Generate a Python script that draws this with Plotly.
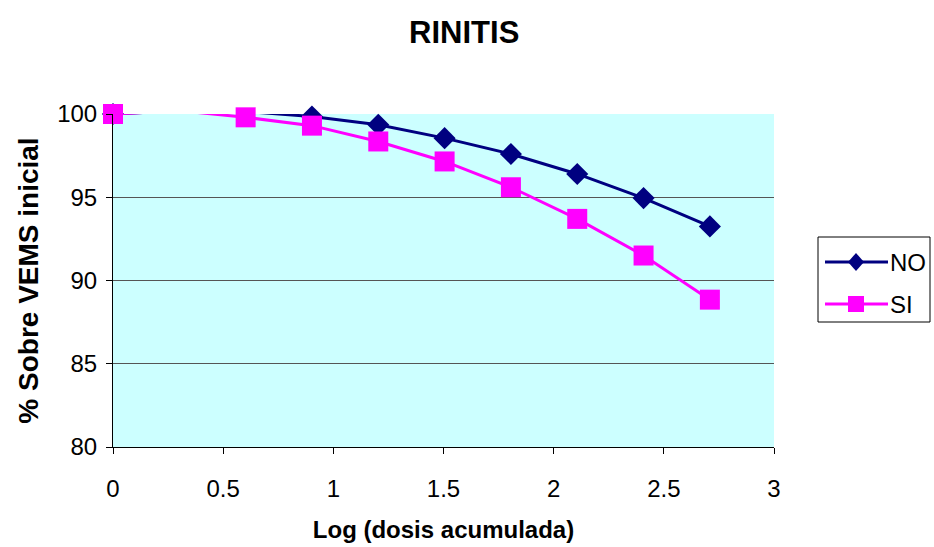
import plotly.graph_objects as go

# Log10 of cumulative dose (doubling doses)
log_dose = [0, 0.301, 0.602, 0.903, 1.204, 1.505, 1.806, 2.107, 2.408, 2.709]

# % of baseline FEV1 (VEMS)
no_values = [100, 100.2, 100.15, 99.85, 99.35, 98.55, 97.6, 96.4, 94.95, 93.25]
si_values = [100, 100.2, 99.8, 99.3, 98.35, 97.15, 95.6, 93.7, 91.5, 88.85]

x_ticks = [0, 0.5, 1, 1.5, 2, 2.5, 3]
y_ticks = [80, 85, 90, 95, 100]

series_names = ["NO", "SI"]
series_colors = ["#000080", "#FF00FF"]

# no marker drawn at the second dose step
no_marker_sizes = [17, 0, 17, 17, 17, 17, 17, 17, 17, 17]
si_marker_sizes = [20, 0, 20, 20, 20, 20, 20, 20, 20, 20]

font_family = "Liberation Sans, Arial, sans-serif"

W, H = 934, 547
M_L, M_R, M_T, M_B = 113, 160, 114, 100
PW, PH = W - M_L - M_R, H - M_T - M_B


def px_x(px):
    return (px - M_L) / PW


def px_y(py):
    return (H - M_B - py) / PH


fig = go.Figure()
fig.add_trace(go.Scatter(
    x=log_dose, y=no_values, name=series_names[0], mode="lines+markers",
    line=dict(color=series_colors[0], width=3),
    marker=dict(symbol="diamond", size=no_marker_sizes, color=series_colors[0],
                opacity=1, line=dict(width=0)),
    cliponaxis=False, showlegend=False,
))
fig.add_trace(go.Scatter(
    x=log_dose, y=si_values, name=series_names[1], mode="lines+markers",
    line=dict(color=series_colors[1], width=3),
    marker=dict(symbol="square", size=si_marker_sizes, color=series_colors[1],
                opacity=1, line=dict(width=0)),
    cliponaxis=False, showlegend=False,
))

# Legend box drawn by hand (long line samples, as in the spreadsheet style)
shapes = [dict(type="rect", xref="paper", yref="paper",
               x0=px_x(818), x1=px_x(930), y0=px_y(322), y1=px_y(237),
               line=dict(color="black", width=1), fillcolor="white", layer="above")]
annotations = []
rows_y = [262, 304]
for name, color, ry, sym in zip(series_names, series_colors, rows_y, ["diamond", "square"]):
    shapes.append(dict(type="line", xref="paper", yref="paper",
                       x0=px_x(825), x1=px_x(888), y0=px_y(ry), y1=px_y(ry),
                       line=dict(color=color, width=3), layer="above"))
    if sym == "diamond":
        path = "M -8 0 L 0 9 L 8 0 L 0 -9 Z"
    else:
        path = "M -8 -8 L 8 -8 L 8 8 L -8 8 Z"
    shapes.append(dict(type="path", xref="paper", yref="paper",
                       xsizemode="pixel", ysizemode="pixel",
                       xanchor=px_x(856), yanchor=px_y(ry), path=path,
                       fillcolor=color, line=dict(width=0), layer="above"))
    annotations.append(dict(xref="paper", yref="paper", x=px_x(888), y=px_y(ry),
                            xanchor="left", yanchor="middle", showarrow=False,
                            text=name, font=dict(size=24, color="black")))

fig.update_layout(
    width=W, height=H,
    margin=dict(l=M_L, r=M_R, t=M_T, b=M_B),
    paper_bgcolor="white",
    plot_bgcolor="#CCFFFF",
    font=dict(family=font_family, color="black", size=24),
    title=dict(text="<b>RINITIS</b>", x=0.497, xanchor="center",
               y=1 - 32 / H, yanchor="middle", font=dict(size=31)),
    showlegend=False,
    shapes=shapes,
    annotations=annotations,
)

fig.update_xaxes(
    range=[0, 3], tickvals=x_ticks, ticktext=[f"{v:g}" for v in x_ticks],
    showgrid=False, zeroline=False, automargin=False,
    showline=True, linecolor="black", linewidth=1,
    ticks="outside", ticklen=6, tickcolor="black",
    tickfont=dict(size=24), ticklabelstandoff=14,
    title=dict(text="<b>Log (dosis acumulada)</b>", font=dict(size=24), standoff=20),
)
fig.update_yaxes(
    range=[80, 100], tickvals=y_ticks,
    showgrid=True, gridcolor="#555555", gridwidth=1,
    zeroline=False, automargin=False,
    showline=True, linecolor="black", linewidth=1,
    ticks="outside", ticklen=6, tickcolor="black",
    tickfont=dict(size=24), ticklabelstandoff=4,
    title=dict(text="<b>% Sobre VEMS inicial</b>", font=dict(size=28), standoff=10),
)

fig.write_html("out.html")
